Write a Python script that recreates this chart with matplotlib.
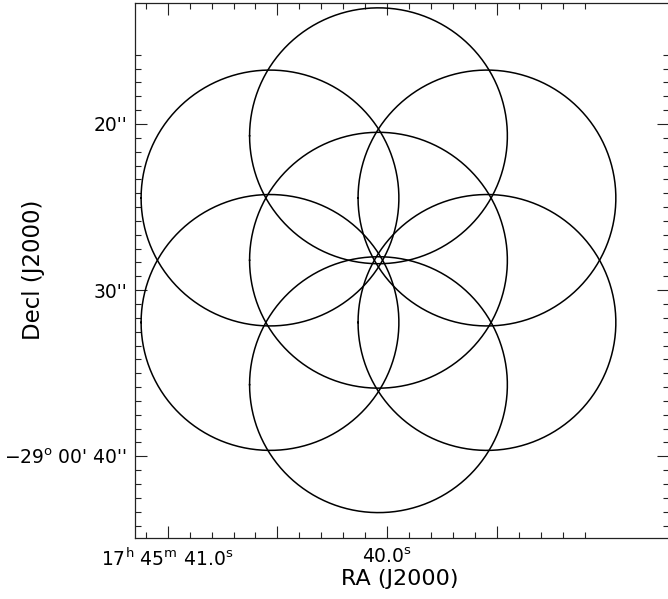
import numpy as np
from matplotlib import pyplot as plt
from matplotlib.ticker import FixedLocator, FixedFormatter

# Mosaic pointings: RA seconds of 17h45m, Dec arcsec of -29d00m
ra_s = [40.04, 40.04, 40.534, 40.534, 40.04, 39.546, 39.546]
dec_as = [28.2, 20.71, 24.455, 31.945, 35.69, 31.945, 24.455]
radius = 7.70       # field radius in arcsec
dec0 = -29.0078     # declination used for cos(dec) scaling

ra_major = [41.0, 40.5, 40.0, 39.5]
ra_labels = [r'17$^{\rm h}$ 45$^{\rm m}$ 41.0$^{\rm s}$', '', r'40.0$^{\rm s}$', '']
ra_minor = [41.1, 40.9, 40.8, 40.7, 40.6, 40.4, 40.3, 40.2, 40.1,
            39.9, 39.8, 39.7, 39.6, 39.4, 39.3, 39.2, 39.1]
dec_major = [20, 30, 40]
dec_labels = ["20''", "30''", r"$-$29$^{\rm o}$ 00' 40''"]
dec_minor = [15.833, 16.667, 17.5, 18.333, 19.167,
             20.833, 21.667, 22.5, 23.333, 24.167, 25.0, 25.833, 26.667, 27.5, 28.333, 29.167,
             30.833, 31.667, 32.5, 33.333, 34.167, 35.0, 35.833, 36.667, 37.5, 38.333, 39.167,
             40.833, 41.667, 42.5, 43.333, 44.167]

fig = plt.figure(figsize=(6.68, 5.99), dpi=100)
ax = fig.add_axes([134.5/668, 61.3/599, 534.5/668, 535/599])

th = np.linspace(0, 2*np.pi, 400)
sec_per_as = 1.0/(15.*np.cos(np.radians(dec0)))
for x0, y0 in zip(ra_s, dec_as):
    ax.plot(x0 + radius*np.cos(th)*sec_per_as, y0 + radius*np.sin(th),
            color='k', lw=1.1)

ax.set_xlim(41.151, 38.717)
ax.set_ylim(44.90, 12.70)

ax.xaxis.set_major_locator(FixedLocator(ra_major))
ax.xaxis.set_major_formatter(FixedFormatter(ra_labels))
ax.xaxis.set_minor_locator(FixedLocator(ra_minor))
ax.yaxis.set_major_locator(FixedLocator(dec_major))
ax.yaxis.set_major_formatter(FixedFormatter(dec_labels))
ax.yaxis.set_minor_locator(FixedLocator(dec_minor))

ax.tick_params(which='both', direction='in', top=True, right=True,
               width=0.8, color='#222222', labelsize=13.5)
ax.tick_params(which='major', length=8.6)
ax.tick_params(which='minor', length=4.6)
ax.tick_params(axis='y', pad=5)
ax.tick_params(axis='x', pad=7)
for sp in ax.spines.values():
    sp.set_linewidth(0.9)
    sp.set_color('#222222')

ax.set_xlabel('RA (J2000)', fontsize=16)
ax.set_ylabel('Decl (J2000)', fontsize=16.5)
ax.xaxis.set_label_coords(0.497, -0.058)
ax.yaxis.set_label_coords(-0.1675, 0.5)

plt.savefig('out.png', dpi=100)
